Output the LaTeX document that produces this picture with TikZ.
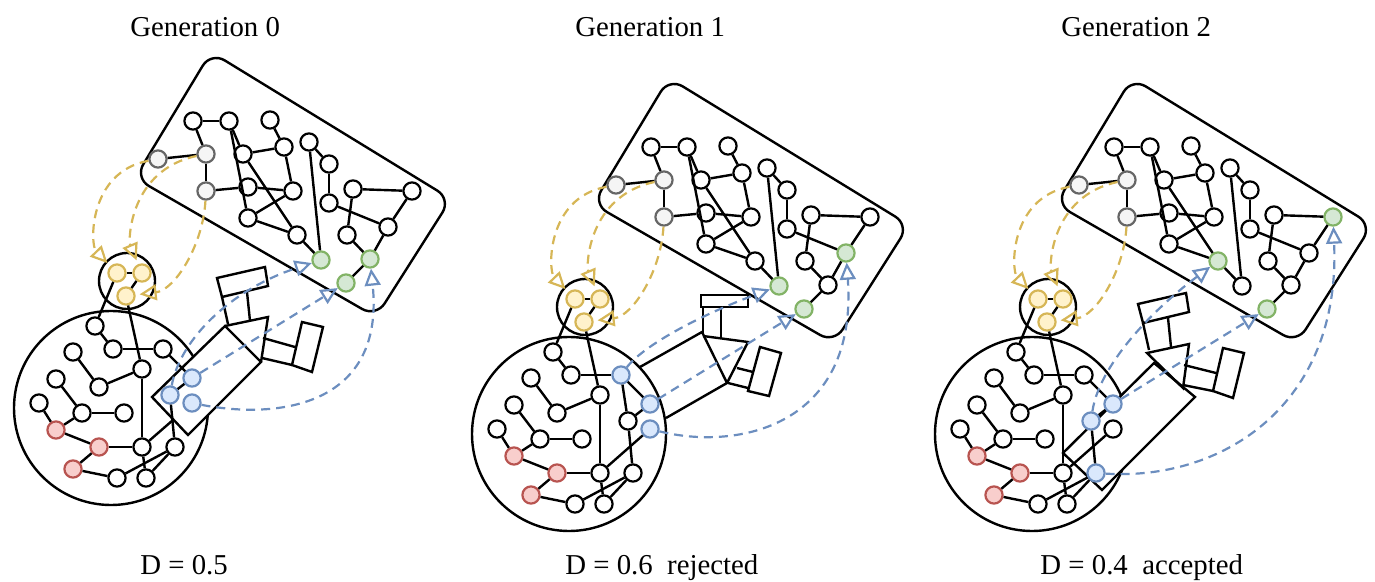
\documentclass[tikz,border=0pt]{standalone}
\usepackage{fontspec}
\setmainfont{Liberation Serif}
\usetikzlibrary{arrows.meta}

\definecolor{wfill}{HTML}{FFFFFF}
\definecolor{wline}{HTML}{000000}
\definecolor{gfill}{HTML}{D5E8D4}
\definecolor{gline}{HTML}{82B366}
\definecolor{bfill}{HTML}{DAE8FC}
\definecolor{bline}{HTML}{6C8EBF}
\definecolor{yfill}{HTML}{FFF2CC}
\definecolor{yline}{HTML}{D6B656}
\definecolor{rfill}{HTML}{F8CECC}
\definecolor{rline}{HTML}{B85450}
\definecolor{efill}{HTML}{F5F5F5}
\definecolor{eline}{HTML}{666666}

\tikzset{
  vtx/.style={circle, draw=#1line, fill=#1fill, line width=1.1pt, minimum size=8.6pt, inner sep=0pt},
  vtx/.default=w,
  wire/.style={black, line width=1.2pt},
  part/.style={black, line width=1.2pt, line join=miter},
  link/.style={dash pattern=on 4.5pt off 3pt, line width=1.1pt, -{Triangle[open, length=8.5pt, width=8pt]}},
  heading/.style={font=\fontsize{14.4}{17}\selectfont, anchor=base west, inner sep=0pt},
}

\begin{document}
\begin{tikzpicture}[x=0.5pt, y=-0.5pt]
\useasboundingbox (0,0) rectangle (1375,582);

% titles and scores
\node[heading] (gen0) at (130,37) {Generation 0};
\node[heading] (gen1) at (575,37) {Generation 1};
\node[heading] (gen2) at (1061,37) {Generation 2};
\node[heading] (score0) at (140,574) {D = 0.5};
\node[heading] (score1) at (565,574) {D = 0.6~~rejected};
\node[heading] (score2) at (1040,574) {D = 0.4~~accepted};

% boxes and body outlines
\foreach \dx/\dy in {0/0, 458/26, 921/26}{
  \begin{scope}[shift={(\dx,\dy)}]
    \draw[part, rounded corners=8pt] (211,52) -- (451,199) -- (376,317) -- (135,178) -- cycle;
    \draw[part] (111,408) circle (97);
    \draw[part] (127,281) circle (28);
  \end{scope}
}

% generation 0 body parts
\filldraw[part, fill=white] (152,397) -- (225,326) -- (261,362) -- (188,435) -- cycle;
\draw[part] (225,326) -- (268,317) -- (261,362);
\draw[part] (217,278) -- (265,267) -- (268,286) -- (222,297) -- cycle;
\draw[part] (222,297) -- (228,324) (247,292) -- (250,321);
\draw[part] (302,322) -- (323,327) -- (312,372) -- (292,365) -- cycle;
\draw[part] (263,338) -- (295,347) (262,358) -- (292,365);

% generation 1 body parts
\begin{scope}[shift={(458,26)}]
  \draw[part] (182,341) -- (244,306) -- (269,357) -- (208,392);
  \draw[part] (245,310) -- (290,316) -- (269,357);
  \draw[part] (243,269) rectangle (290,281);
  \draw[part] (245,281) -- (245,309) (263,281) -- (263,313);
  \draw[part] (302,321) -- (323,327) -- (311,370) -- (290,365) -- cycle;
  \draw[part] (279,342) -- (295,346) (270,357) -- (290,362);
\end{scope}

% generation 2 body parts
\begin{scope}[shift={(921,26)}]
  \filldraw[part, fill=white] (142,427) -- (233,337) -- (274,371) -- (181,464) -- cycle;
  \draw[part] (226,327) -- (268,318) -- (262,362) -- cycle;
  \draw[part] (217,278) -- (265,267) -- (268,286) -- (222,297) -- cycle;
  \draw[part] (222,297) -- (228,324) (247,292) -- (250,321);
  \draw[part] (302,322) -- (323,327) -- (312,372) -- (292,365) -- cycle;
  \draw[part] (263,339) -- (295,347) (262,359) -- (292,365);
\end{scope}

% networks, shared in all generations
\foreach \p/\dx/\dy/\ka/\kb/\kc/\kd/\ke/\kf/\kg/\kh/\ki in
  {0/0/0/w/w/w/g/g/w/b/b/w, 1/458/26/w/w/g/g/w/b/w/b/w, 2/921/26/g/g/w/w/w/w/b/w/b}{
  \begin{scope}[shift={(\dx,\dy)}]
    \foreach \n/\x/\y in {a1/193/121, a2/229/121, a3/270/120, a4/243/154, a5/284/147,
      a6/309/142, a7/329/164, a8/248/187, a9/293/191, a10/329/203, a11/248/218,
      a13/353/189, a16/347/235,
      b1/95/326, b2/113/349, b4/73/352, b5/142/369, b6/56/379, b7/99/387,
      b8/39/403, b9/82/413, b10/124/413, b11/142/447, b13/117/478, b14/146/478}
      \node[vtx] (\n-\p) at (\x,\y) {};
    \node[vtx=\ka] (a12-\p) at (297,235) {};
    \node[vtx=\kb] (a14-\p) at (412,191) {};
    \node[vtx=\kc] (a15-\p) at (388,227) {};
    \node[vtx=\kd] (c1-\p) at (321,260) {};
    \node[vtx=\ke] (c2-\p) at (370,259) {};
    \node[vtx=g] (c3-\p) at (346,283) {};
    \node[vtx=\kf] (b3-\p) at (163,349) {};
    \node[vtx=b] (d1-\p) at (192,378) {};
    \node[vtx=\kg] (d2-\p) at (170,395) {};
    \node[vtx=\kh] (d3-\p) at (192,403) {};
    \node[vtx=\ki] (b12-\p) at (175,447) {};
    \node[vtx=e] (e1-\p) at (158,159) {};
    \node[vtx=e] (e2-\p) at (206,154) {};
    \node[vtx=e] (e3-\p) at (206,191) {};
    \node[vtx=y] (y1-\p) at (117,273) {};
    \node[vtx=y] (y2-\p) at (142,273) {};
    \node[vtx=y] (y3-\p) at (126,296) {};
    \node[vtx=r] (r1-\p) at (56,430) {};
    \node[vtx=r] (r2-\p) at (99,447) {};
    \node[vtx=r] (r3-\p) at (73,469) {};
    \foreach \s/\t in {e1/e2, e2/a1, a1/a2, e2/e3, e3/a8, a2/a4, a2/a11, a3/a5, a4/a5,
      a4/a12, a5/a9, a8/a9, a9/a11, a11/a12, a12/c1, a6/c1, a6/a7, a7/a10, a10/a15,
      a13/a14, a13/a16, a14/a15, a16/c2, a15/c2, c2/c3,
      y1/y2, y2/y3, y1/b1, y3/b5, b1/b2, b2/b3, b3/d1, d1/d2, d2/b12, b4/b7, b7/b5,
      b5/b11, b6/b9, b9/b10, b8/r1, r1/b9, r1/r2, r2/b11, r2/r3, r3/b13, b13/b12,
      b12/b14, b11/b14}
      \draw[wire] (\s-\p) -- (\t-\p);
    \draw[link, yline, shorten >=2pt] (e1-\p) .. controls (88,172) and (90,245) .. (y1-\p);
    \draw[link, yline, shorten >=2pt] (e2-\p) .. controls (130,170) and (128,240) .. (y2-\p);
    \draw[link, yline, shorten >=2pt] (e3-\p) .. controls (203,245) and (175,290) .. (y3-\p);
  \end{scope}
}

% generation 0 links
\coordinate (joint-0) at (173,420);
\draw[wire] (b11-0) -- (joint-0);
\draw[link, bline] (d2-0) .. controls (180,340) and (230,290) .. (c1-0);
\draw[link, bline] (d1-0) -- (c3-0);
\draw[link, bline] (d3-0) .. controls (280,420) and (385,405) .. (c2-0);

% generation 1 links
\begin{scope}[shift={(458,26)}]
  \draw[wire] (b3-1) -- (d2-1);
  \draw[wire] (b11-1) -- (d3-1);
  \draw[link, bline] (b3-1) .. controls (185,320) and (240,290) .. (c1-1);
  \draw[link, bline] (d1-1) -- (c3-1);
  \draw[link, bline] (d3-1) .. controls (280,425) and (400,400) .. (a15-1);
\end{scope}

% generation 2 links
\begin{scope}[shift={(921,26)}]
  \draw[wire] (b11-2) -- (d3-2);
  \draw[link, bline] (d2-2) .. controls (178,340) and (230,285) .. (a12-2);
  \draw[link, bline] (d1-2) -- (c3-2);
  \draw[link, bline] (b12-2) .. controls (300,455) and (420,380) .. (a14-2);
\end{scope}
\end{tikzpicture}
\end{document}
